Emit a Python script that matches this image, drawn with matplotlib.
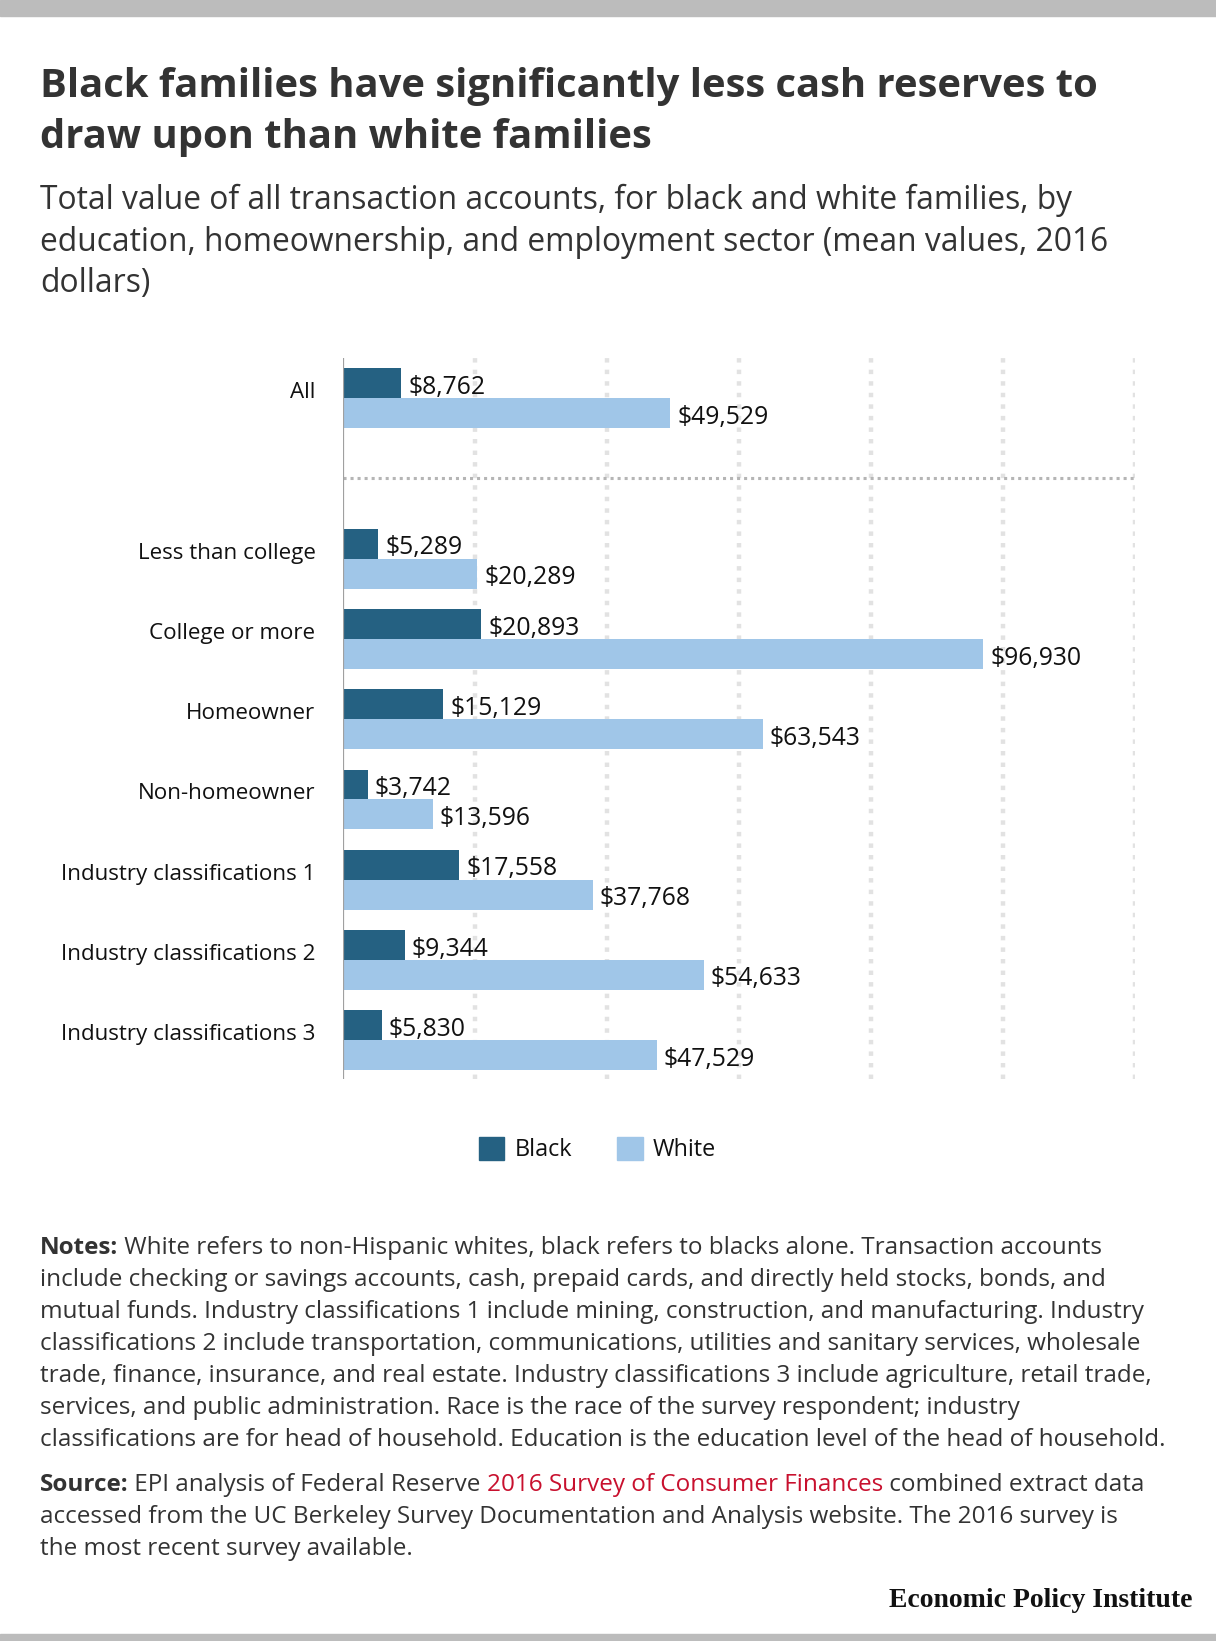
import matplotlib.pyplot as plt
from matplotlib.patches import Rectangle, Patch

# data
categories = ['All', 'Less than college', 'College or more', 'Homeowner', 'Non-homeowner',
              'Industry classifications 1', 'Industry classifications 2', 'Industry classifications 3']
positions = [0, 2, 3, 4, 5, 6, 7, 8]
black = [8762, 5289, 20893, 15129, 3742, 17558, 9344, 5830]
white = [49529, 20289, 96930, 63543, 13596, 37768, 54633, 47529]

dark = '#256182'
light = '#a0c6e8'
txt = '#333333'

plt.rcParams['font.family'] = ['Open Sans', 'DejaVu Sans']

# layout measured on a 1162 x 1567 grid
W, H = 1162.0, 1567.0
def fx(x):
    return x / W
def fy(y):
    return 1 - y / H

fig = plt.figure(figsize=(12.16, 16.41), dpi=100)

# grey bands top and bottom
fig.patches.append(Rectangle((0, fy(15)), 1, 15 / H, transform=fig.transFigure, color='#bcbcbc', zorder=0))
fig.patches.append(Rectangle((0, 0), 1, 7 / H, transform=fig.transFigure, color='#bcbcbc', zorder=0))

fig.text(fx(38), fy(107), 'Black families have significantly less cash reserves to\ndraw upon than white families',
         fontsize=28.8, fontweight='bold', color=txt, va='center', ha='left', linespacing=1.42)
fig.text(fx(38), fy(231), 'Total value of all transaction accounts, for black and white families, by\n'
         'education, homeownership, and employment sector (mean values, 2016\ndollars)',
         fontsize=22.9, color=txt, va='center', ha='left', linespacing=1.34)

ax = fig.add_axes([fx(328), fy(1030), fx(1085) - fx(328), (1030 - 342) / H])
h = 0.372
ax.barh([p - h / 2 for p in positions], black, height=h, color=dark, zorder=3)
ax.barh([p + h / 2 for p in positions], white, height=h, color=light, zorder=3)

for p, b, w in zip(positions, black, white):
    ax.annotate('${:,}'.format(b), (b, p - h / 2), xytext=(5, -3), textcoords='offset points',
                ha='left', va='center', fontsize=17.8, color='#111111')
    ax.annotate('${:,}'.format(w), (w, p + h / 2), xytext=(5, -3), textcoords='offset points',
                ha='left', va='center', fontsize=17.8, color='#111111')

for p, c in zip(positions, categories):
    ax.annotate(c, (0, p), xytext=(-20, 4), textcoords='offset points',
                ha='right', va='center', fontsize=16.1, color='#111111')

ax.set_xlim(0, 120000)
ax.set_ylim(8.48, -0.5)
for gx in range(20000, 120001, 20000):
    ax.axvline(gx, color='#e2e2e2', lw=3.2, linestyle=(0, (1, 1.6)), zorder=1)
ax.axhline(1, color='#b5b5b5', lw=2.2, linestyle=(0, (1, 1.3)), zorder=1)
ax.axvline(0, color='#a0a0a0', lw=1.6, zorder=4)
for s in ax.spines.values():
    s.set_visible(False)
ax.set_xticks([])
ax.set_yticks([])

handles = [Patch(color=dark), Patch(color=light)]
fig.legend(handles, ['Black', 'White'], loc='center', bbox_to_anchor=(fx(571), fy(1098)), ncol=2,
           frameon=False, fontsize=16.8, handlelength=1.1, handleheight=1.1, handletextpad=0.45,
           columnspacing=1.9, labelcolor='#111111')

renderer = fig.canvas.get_renderer()

def run(pieces, x, y, size):
    # write a line made of differently styled pieces side by side
    for s, weight, col in pieces:
        t = fig.text(x, y, s, fontsize=size, fontweight=weight, color=col, ha='left', va='center')
        bb = t.get_window_extent(renderer=renderer)
        x += bb.width / fig.bbox.width

fs = 17.5
notes = [
    'include checking or savings accounts, cash, prepaid cards, and directly held stocks, bonds, and',
    'mutual funds. Industry classifications 1 include mining, construction, and manufacturing. Industry',
    'classifications 2 include transportation, communications, utilities and sanitary services, wholesale',
    'trade, finance, insurance, and real estate. Industry classifications 3 include agriculture, retail trade,',
    'services, and public administration. Race is the race of the survey respondent; industry',
    'classifications are for head of household. Education is the education level of the head of household.',
]
run([('Notes:', 'bold', txt), (' White refers to non-Hispanic whites, black refers to blacks alone. Transaction accounts', 'normal', txt)],
    fx(38), fy(1192), fs)
for i, line in enumerate(notes):
    fig.text(fx(38), fy(1192 + 30.5 * (i + 1)), line, fontsize=fs, color=txt, ha='left', va='center')

run([('Source:', 'bold', txt), (' EPI analysis of Federal Reserve ', 'normal', txt),
     ('2016 Survey of Consumer Finances', 'normal', '#c8102e'), (' combined extract data', 'normal', txt)],
    fx(38), fy(1418), fs)
fig.text(fx(38), fy(1448.5), 'accessed from the UC Berkeley Survey Documentation and Analysis website. The 2016 survey is',
         fontsize=fs, color=txt, ha='left', va='center')
fig.text(fx(38), fy(1479), 'the most recent survey available.', fontsize=fs, color=txt, ha='left', va='center')

fig.text(fx(1140), fy(1528), 'Economic Policy Institute', fontsize=20, fontweight='bold',
         family='Liberation Serif', color='#111111', ha='right', va='center')

fig.savefig('out.png', dpi=100, facecolor='white')
